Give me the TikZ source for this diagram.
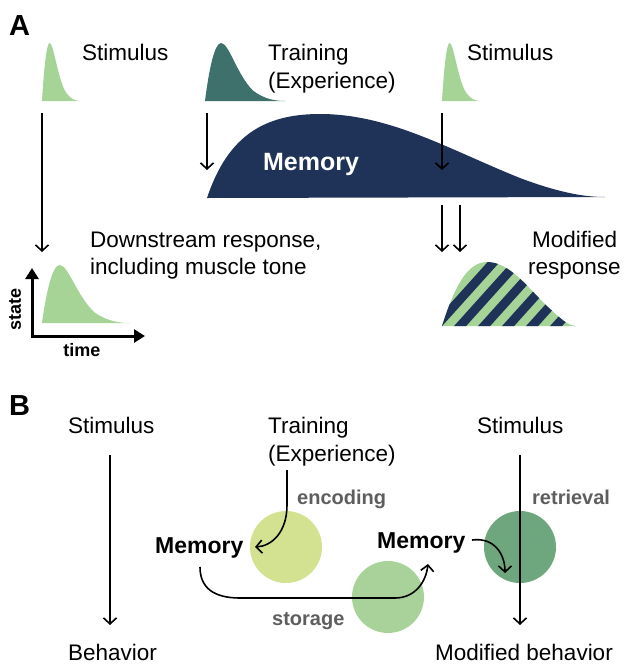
\documentclass[tikz,border=0pt]{standalone}
\usepackage{fontspec}
\setmainfont{Liberation Sans}
\usetikzlibrary{arrows.meta}
\definecolor{stimgreen}{HTML}{A6D396}
\definecolor{traincol}{HTML}{3F716C}
\definecolor{navy}{HTML}{1F3358}
\definecolor{circA}{HTML}{D3E290}
\definecolor{circB}{HTML}{A9D29A}
\definecolor{circC}{HTML}{6EA77E}
\definecolor{labgray}{HTML}{5E5E5E}
\newcommand\pulsefill[1]{\fill[#1] (0,0) .. controls (0.05,-0.55) and (0.12,-1) .. (0.2,-1) .. controls (0.3,-1) and (0.4,-0.45) .. (0.6,-0.18) .. controls (0.75,-0.02) and (0.9,0) .. (1,0) -- cycle;}
\begin{document}
\begin{tikzpicture}[x=1pt,y=-1pt,
  txt/.style={anchor=base west, inner sep=0pt, font=\fontsize{22.5}{27}\selectfont},
  memtxt/.style={anchor=base west, inner sep=0pt, font=\fontsize{23}{27}\selectfont\bfseries},
  graytxt/.style={anchor=base west, inner sep=0pt, text=labgray, font=\fontsize{20}{24}\selectfont\bfseries},
  panel/.style={anchor=base west, inner sep=0pt, font=\fontsize{29}{32}\selectfont\bfseries},
  axtxt/.style={inner sep=0pt, font=\fontsize{18}{21}\selectfont\bfseries},
  arr/.style={line width=1.6pt, -{Straight Barb[length=6pt,width=13pt]}},
  blob/.style={circle, minimum size=72pt, inner sep=0pt}]
\useasboundingbox (0,0) rectangle (625,665);

% ---------------- Panel A ----------------
\node[panel] (lA) at (9,35) {A};

\begin{scope}[shift={(42,101)},xscale=38,yscale=58] \pulsefill{stimgreen} \end{scope}
\begin{scope}[shift={(205,101)},xscale=80,yscale=58] \pulsefill{traincol} \end{scope}
\begin{scope}[shift={(442,101)},xscale=38,yscale=58] \pulsefill{stimgreen} \end{scope}
\begin{scope}[shift={(42,323)},xscale=88,yscale=58] \pulsefill{stimgreen} \end{scope}

\node[txt] (s1) at (82,60) {Stimulus};
\node[txt] (t1) at (268,60) {Training};
\node[txt] (t2) at (268,88) {(Experience)};
\node[txt] (s2) at (467,60) {Stimulus};

% memory hump
\fill[navy] (207,198) .. controls (228,135) and (265,114) .. (320,114)
  .. controls (390,114) and (450,150) .. (520,178)
  .. controls (560,193) and (585,197) .. (605,197) -- cycle;
\node[inner sep=0pt, text=white, font=\fontsize{25}{30}\selectfont\bfseries] (memA) at (311,164) {Memory};

\coordinate (a1s) at (42,113);  \coordinate (a1e) at (42,252);
\coordinate (a2s) at (207,113); \coordinate (a2e) at (207,170);
\coordinate (a3s) at (442,113); \coordinate (a3e) at (442,170);
\coordinate (a4s) at (442,205); \coordinate (a4e) at (442,252);
\coordinate (a5s) at (460,205); \coordinate (a5e) at (460,252);
\draw[arr] (a1s) -- (a1e);
\draw[arr] (a2s) -- (a2e);
\draw[arr] (a3s) -- (a3e);
\draw[arr] (a4s) -- (a4e);
\draw[arr] (a5s) -- (a5e);

% downstream axes
\coordinate (ytip) at (32,268);
\coordinate (orig) at (32,336);
\coordinate (xtip) at (145,336);
\draw[line width=3pt, {Triangle[length=11pt,width=13pt]}-{Triangle[length=11pt,width=13pt]}] (ytip) -- (orig) -- (xtip);
\node[axtxt, rotate=90] (stl) at (15,309) {state};
\node[axtxt] (tml) at (82,350) {time};

\node[txt] (d1) at (90,247) {Downstream response,};
\node[txt] (d2) at (90,274) {including muscle tone};

% modified response hatched
\begin{scope}
  \clip (442,326) .. controls (455,285) and (468,262) .. (487,262)
    .. controls (510,262) and (528,288) .. (548,307)
    .. controls (560,318) and (567,325) .. (575,326) -- cycle;
  \fill[stimgreen] (430,250) rectangle (590,340);
  \foreach \i in {0,...,11} \draw[navy, line width=9pt] ({395+\i*24},345) -- ++(90,-100);
\end{scope}
\node[txt] (m1) at (532,247) {Modified};
\node[txt] (m2) at (528,274) {response};

% ---------------- Panel B ----------------
\node[panel] (lB) at (9,415) {B};

\node[blob, fill=circA] (c1) at (286,547) {};
\node[blob, fill=circB] (c2) at (388,597) {};
\node[blob, fill=circC] (c3) at (520,547) {};

\node[txt] (bs1) at (68,433) {Stimulus};
\node[txt] (bt1) at (268,433) {Training};
\node[txt] (bt2) at (268,461) {(Experience)};
\node[txt] (bs2) at (477,433) {Stimulus};
\node[txt] (bb1) at (68,660) {Behavior};
\node[txt] (bb2) at (435,660) {Modified behavior};
\node[graytxt] (enc) at (297,504) {encoding};
\node[graytxt] (ret) at (532,504) {retrieval};
\node[graytxt] (sto) at (272,625) {storage};
\node[memtxt] (mem1) at (155,553) {Memory};
\node[memtxt] (mem2) at (377,548) {Memory};

\coordinate (b1s) at (110,455); \coordinate (b1e) at (110,625);
\coordinate (b2s) at (520,455); \coordinate (b2e) at (520,625);
\draw[arr] (b1s) -- (b1e);
\draw[arr] (b2s) -- (b2e);

\coordinate (es) at (287,470); \coordinate (ee) at (255,547);
\draw[arr] (es) -- (287,505) .. controls (287,532) and (272,546) .. (ee);

\coordinate (ss) at (200,567); \coordinate (se) at (428,564);
\draw[arr] (ss) .. controls (200,588) and (214,598) .. (240,598) -- (395,598)
  .. controls (415,598) and (426,582) .. (se);

\coordinate (rs) at (472,540); \coordinate (re) at (505,573);
\draw[arr] (rs) .. controls (495,537) and (505,555) .. (re);
\end{tikzpicture}
\end{document}
